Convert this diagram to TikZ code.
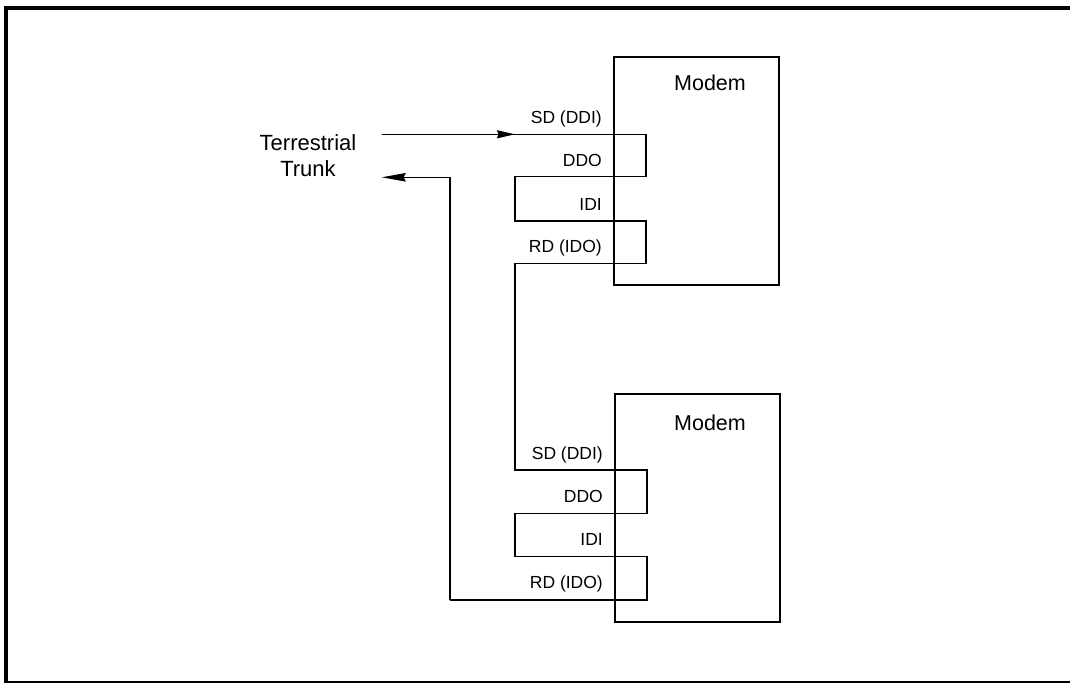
\documentclass[tikz,border=0pt]{standalone}
\usepackage{fontspec}
\setmainfont{Liberation Sans}
\usetikzlibrary{arrows.meta,positioning,calc}
\tikzset{
  modem/.style={draw,line width=2pt,minimum width=165pt,minimum height=228pt,inner sep=0pt},
  title/.style={font=\fontsize{21.5}{26}\selectfont,anchor=base,inner sep=0pt},
  pin/.style={font=\fontsize{17.5}{21}\selectfont,anchor=base east,inner sep=0pt},
  trunk/.style={font=\fontsize{22}{26.3}\selectfont,align=center,anchor=north,inner sep=0pt},
  wire/.style={line width=1.5pt},
  feed/.style={-{Stealth[length=18pt,width=8pt,inset=1.5pt]},line width=1.5pt},
  back/.style={-{Stealth[length=24pt,width=8.5pt,inset=2pt]},line width=1.5pt},
}

\begin{document}
\begin{tikzpicture}[x=1pt,y=-1pt]
    \useasboundingbox (0,0) rectangle (1070,683);
    % frame
    \draw[line width=4pt] (6,683) -- (6,8) -- (1070,8);
    \draw[line width=2pt] (4,682) -- (1070,682);

    \node[modem] (modemA) at (696.5,171.2) {};
    \node[title] (titleA) at (710,90) {Modem};
    \node[modem] (modemB) at (697,507.9) {};
    \node[title] (titleB) at (710,430) {Modem};

    \node[trunk] (trunk) at (308,134.5) {Terrestrial\\Trunk};

    \node[pin] (sdA) at (602,123) {SD (DDI)};
    \node[pin] (ddoA) at (602,166.5) {DDO};
    \node[pin] (idiA) at (602,210) {IDI};
    \node[pin] (rdA) at (602,252.5) {RD (IDO)};
    \node[pin] (sdB) at (603,459) {SD (DDI)};
    \node[pin] (ddoB) at (603,502.5) {DDO};
    \node[pin] (idiB) at (603,545.5) {IDI};
    \node[pin] (rdB) at (603,588.5) {RD (IDO)};

    \coordinate (inA) at (381.7,134.3);
    \coordinate (tipA) at (515,134.3);
    \coordinate (outA) at (381.7,177.3);
    \coordinate (ret) at (450,600);

    \draw[feed] (inA) -- (tipA);
    \draw[wire] (inA) -- (646,134.3) |- (515,176.7) |- (646,221) |- (515,263.3)
        |- (647,470) |- (515,513.3) |- (647,556.7) |- (ret);
    \draw[back] (ret) |- (outA);

  \end{tikzpicture}
\end{document}
